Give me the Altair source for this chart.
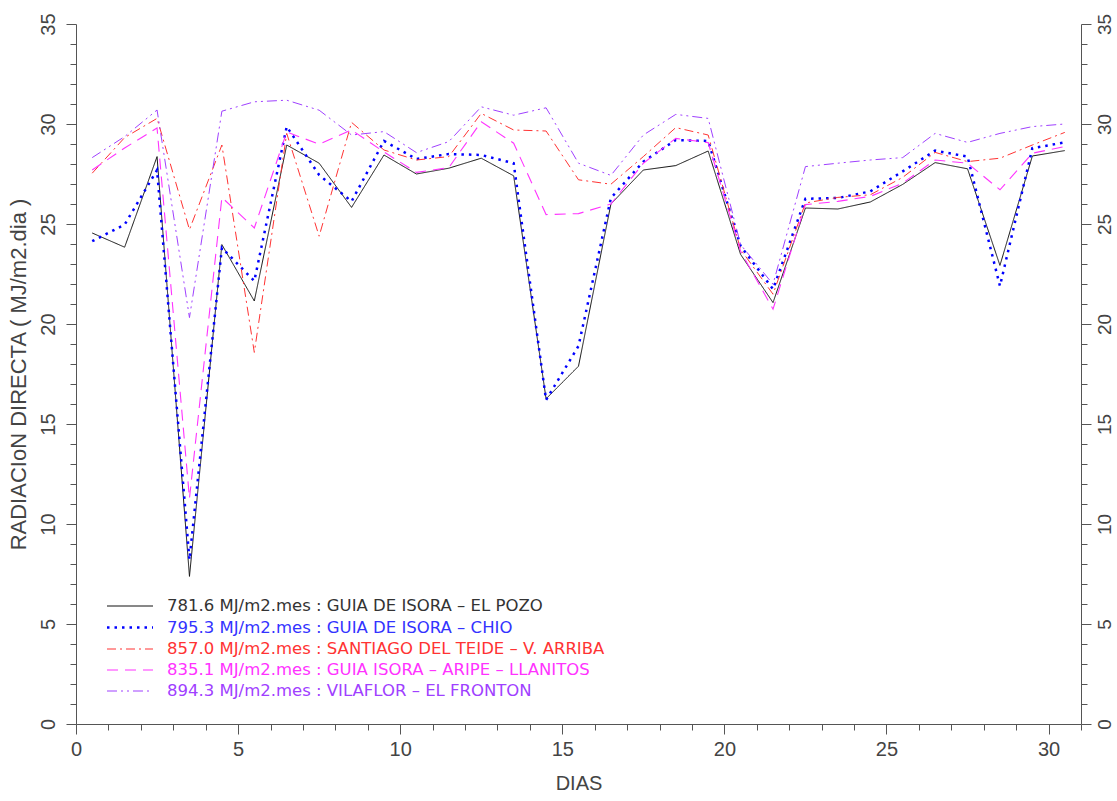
import altair as alt
import pandas as pd

days = [0.5, 1.5, 2.5, 3.5, 4.5, 5.5, 6.5, 7.5, 8.5, 9.5, 10.5, 11.5, 12.5, 13.5, 14.5, 15.5,
        16.5, 17.5, 18.5, 19.5, 20.5, 21.5, 22.5, 23.5, 24.5, 25.5, 26.5, 27.5, 28.5, 29.5, 30.5]

pozo = [24.55, 23.84, 28.37, 7.38, 23.97, 21.15, 28.95, 28.04, 25.83, 28.45, 27.5, 27.79, 28.29, 27.41, 16.26,
        17.89, 26.0, 27.7, 27.92, 28.65, 23.48, 21.07, 25.8, 25.75, 26.1, 26.98, 28.07, 27.76, 22.93, 28.4, 28.67]
chio = [24.14, 24.97, 27.7, 8.21, 23.81, 22.15, 29.87, 27.45, 26.13, 29.15, 28.25, 28.5, 28.45, 28.04, 16.2,
        18.9, 26.3, 28.12, 29.2, 29.15, 23.9, 21.74, 26.26, 26.3, 26.63, 27.63, 28.67, 28.37, 21.9, 28.79, 29.08]
santiago = [27.54, 29.32, 30.28, 24.72, 28.95, 18.58, 29.53, 24.39, 30.08, 28.7, 28.2, 28.37, 30.53, 29.7, 29.65,
            27.21, 26.99, 28.37, 29.82, 29.45, 23.73, 21.49, 26.05, 26.33, 26.46, 27.33, 28.58, 28.12, 28.29, 28.95, 29.58]
aripe = [27.7, 28.8, 29.8, 11.28, 26.33, 24.8, 29.6, 28.99, 29.7, 28.6, 27.58, 27.82, 30.11, 29.04, 25.47,
         25.52, 26.0, 28.04, 29.28, 29.07, 23.64, 20.74, 25.97, 26.13, 26.38, 27.04, 28.2, 28.04, 26.71, 28.54, 28.87]
vilaflor = [28.32, 29.37, 30.7, 20.32, 30.64, 31.11, 31.19, 30.69, 29.45, 29.62, 28.57, 29.12, 30.86, 30.44, 30.81,
            28.04, 27.43, 29.45, 30.48, 30.28, 23.97, 21.99, 27.87, 28.04, 28.2, 28.32, 29.53, 29.08, 29.53, 29.87, 30.0]

labels = [
    "781.6 MJ/m2.mes : GUIA DE ISORA – EL POZO",
    "795.3 MJ/m2.mes : GUIA DE ISORA – CHIO",
    "857.0 MJ/m2.mes : SANTIAGO DEL TEIDE – V. ARRIBA",
    "835.1 MJ/m2.mes : GUIA ISORA – ARIPE – LLANITOS",
    "894.3 MJ/m2.mes : VILAFLOR – EL FRONTON",
]
series_values = [pozo, chio, santiago, aripe, vilaflor]
line_colors = ["#111111", "#0000ff", "#ff3333", "#ff33ff", "#9f40ff"]
text_colors = ["#333333", "#3333ff", "#ff3333", "#ff33ff", "#9f40ff"]
dashes = [[1, 0], [2.5, 5], [9, 4, 2, 4], [11, 7], [10, 4, 2, 4, 2, 4]]
widths = [1.0, 2.5, 1.0, 1.1, 1.0]

W, H = 1005, 700
AX = "#555555"
FONT = "Liberation Sans"

xscale = alt.Scale(domain=[0, 31], nice=False, zero=False)
yscale = alt.Scale(domain=[0, 35], nice=False, zero=False)

tick_cond = {"condition": {"test": "datum.value % 5 === 0", "value": 10}, "value": 6}
lab_expr = "datum.value % 5 === 0 ? datum.label : ''"

x_axis = alt.Axis(
    values=list(range(32)), labelExpr=lab_expr, tickSize=tick_cond, grid=False,
    title="DIAS", labelFont=FONT, labelFontSize=20, labelColor="#444444", labelPadding=5,
    labelOverlap=False, labelFlush=False, titleFont=FONT, titleFontSize=20,
    titleFontWeight="normal", titleColor="#444444", titlePadding=14,
    domainColor=AX, tickColor=AX,
)
y_axis = alt.Axis(
    values=list(range(36)), labelExpr=lab_expr, tickSize=tick_cond, grid=False,
    title="RADIACIoN DIRECTA ( MJ/m2.dia )", labelAngle=270, labelFont=FONT, labelFontSize=20,
    labelColor="#444444", labelPadding=8, labelOverlap=False, labelFlush=False,
    titleFont=FONT, titleFontSize=22, titleFontWeight="normal", titleColor="#444444",
    titlePadding=8, domainColor=AX, tickColor=AX,
)
y_axis_r = alt.Axis(
    values=list(range(36)), labelExpr=lab_expr, tickSize=tick_cond, grid=False, orient="right",
    title=None, labelAngle=270, labelFont=FONT, labelFontSize=19, labelColor="#444444",
    labelPadding=4, labelOverlap=False, labelFlush=False, domainColor=AX, tickColor=AX,
)

lines = []
for i, vals in enumerate(series_values):
    df = pd.DataFrame({"dia": days, "rad": vals})
    lines.append(
        alt.Chart(df).mark_line(
            color=line_colors[i], strokeDash=dashes[i], strokeWidth=widths[i], strokeCap="butt"
        ).encode(
            x=alt.X("dia:Q", scale=xscale, axis=x_axis),
            y=alt.Y("rad:Q", scale=yscale, axis=y_axis),
        )
    )

legend_layers = []
row_y = [582, 603.5, 625, 646, 667]
for i, lab in enumerate(labels):
    ldf = pd.DataFrame({"t": [lab]})
    legend_layers.append(
        alt.Chart(ldf).mark_rule(
            color=line_colors[i], strokeDash=dashes[i], strokeWidth=widths[i], strokeCap="butt"
        ).encode(x=alt.value(31), x2=alt.value(77), y=alt.value(row_y[i]))
    )
    legend_layers.append(
        alt.Chart(ldf).mark_text(
            align="left", baseline="middle", font="DejaVu Sans", fontSize=16.5, color=text_colors[i]
        ).encode(x=alt.value(91), y=alt.value(row_y[i]), text="t:N")
    )

inner = alt.layer(*lines, *legend_layers)

right_df = pd.DataFrame({"dia": days, "rad": pozo})
right_axis = alt.Chart(right_df).mark_line(opacity=0).encode(
    x=alt.X("dia:Q", scale=xscale, axis=x_axis),
    y=alt.Y("rad:Q", scale=yscale, axis=y_axis_r),
)

chart = alt.layer(inner, right_axis).resolve_scale(y="independent").properties(
    width=W, height=H,
    autosize=alt.AutoSizeParams(type="none"),
    padding={"left": 76, "top": 24, "right": 36, "bottom": 77},
    background="white",
).configure_view(stroke=None)

chart.save("out.html", embed_options={"renderer": "svg", "actions": False})
